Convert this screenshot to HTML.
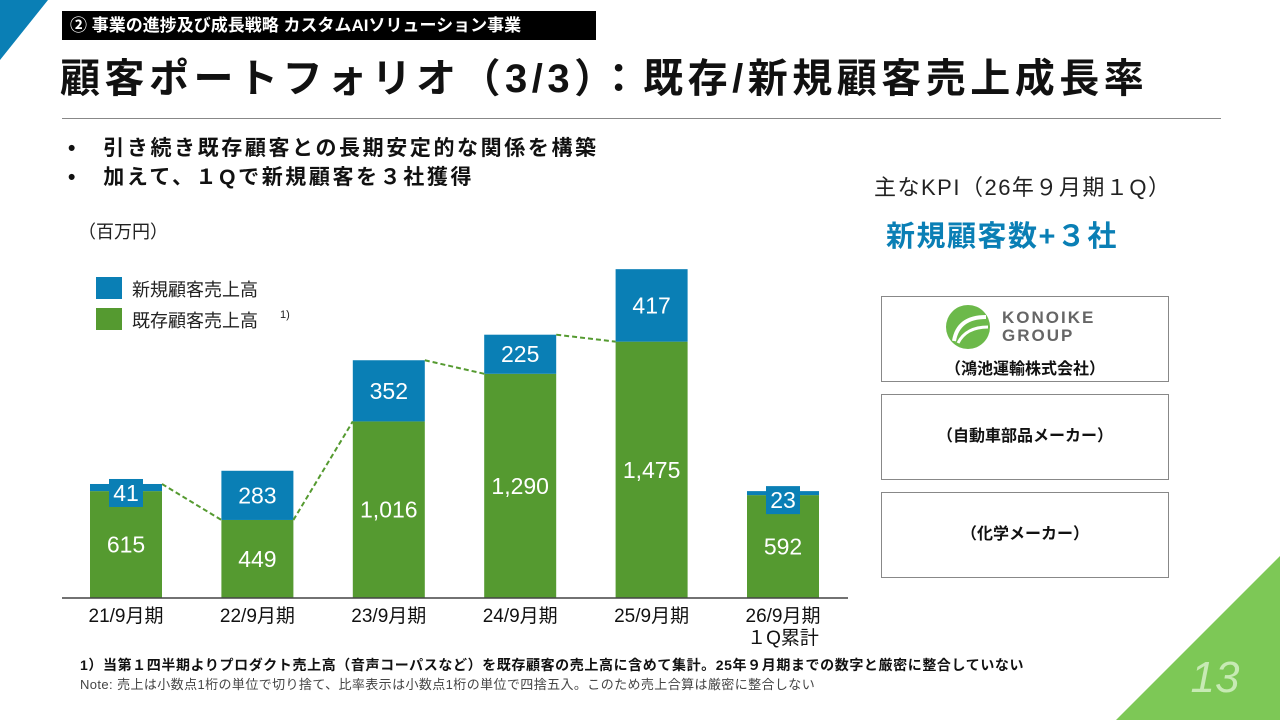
<!DOCTYPE html>
<html><head><meta charset="utf-8">
<style>
body{margin:0;width:1280px;height:720px;overflow:hidden;background:#fff;font-family:"Liberation Sans","Noto Sans CJK JP",sans-serif;position:relative}
.abs{position:absolute}
.tag{left:62px;top:11px;width:534px;height:29px;background:#000;color:#fff;font-size:17px;font-weight:bold;line-height:29px;padding-left:8px;box-sizing:border-box}
.title{left:60px;top:46px;font-size:40px;letter-spacing:4.5px;font-weight:bold;color:#111;white-space:nowrap}
.rule{left:62px;top:118px;width:1159px;height:1px;background:#888}
.bul{left:68px;font-size:21px;letter-spacing:2.6px;font-weight:bold;color:#111;white-space:nowrap}
.kbox{left:881px;width:288px;border:1.5px solid #888;box-sizing:border-box;font-size:16px;font-weight:bold;color:#111;text-align:center}
</style></head><body>
<svg class="abs" style="left:0;top:0" width="1280" height="720">
<polygon points="0,0 48,0 0,60" fill="#0a7fb5"/>
<polygon points="1116,720 1280,556 1280,720" fill="#7dc856"/>
<text x="1215" y="692" font-size="44" font-style="italic" fill="#c7eab4" text-anchor="middle" font-family="Liberation Sans">13</text>
</svg>
<div class="abs tag">② 事業の進捗及び成長戦略 カスタムAIソリューション事業</div>
<div class="abs title">顧客ポートフォリオ（3/3）：既存/新規顧客売上成長率</div>
<div class="abs rule"></div>
<div class="abs bul" style="top:132px">•&nbsp;&nbsp;&nbsp;引き続き既存顧客との長期安定的な関係を構築</div>
<div class="abs bul" style="top:161px">•&nbsp;&nbsp;&nbsp;加えて、１Qで新規顧客を３社獲得</div>
<div class="abs" style="left:78px;top:218px;font-size:18px;color:#222">（百万円）</div>
<div class="abs" style="left:874px;top:170px;font-size:22px;letter-spacing:1.5px;color:#222;white-space:nowrap">主なKPI（26年９月期１Q）</div>
<div class="abs" style="left:886px;top:213px;font-size:29px;letter-spacing:1.5px;font-weight:bold;color:#0a7fb5;white-space:nowrap">新規顧客数+３社</div>
<div class="abs kbox" style="top:296px;height:86px">
<svg width="60" height="50" style="position:absolute;left:58px;top:6px"><circle cx="28" cy="24" r="22" fill="#6cb94a"/><path d="M14,38 Q18,14 46,14" stroke="#fff" stroke-width="4" fill="none"/><path d="M18,40 Q26,24 48,24" stroke="#fff" stroke-width="3" fill="none"/></svg>
<div style="position:absolute;left:120px;top:12px;font-size:17px;letter-spacing:2px;color:#666;line-height:18px;text-align:left">KONOIKE<br>GROUP</div>
<div style="position:absolute;left:0;right:0;top:58px">（鴻池運輸株式会社）</div></div>
<div class="abs kbox" style="top:394px;height:86px;line-height:84px">（自動車部品メーカー）</div>
<div class="abs kbox" style="top:492px;height:86px;line-height:84px">（化学メーカー）</div>
<div class="abs" style="left:80px;top:655px;font-size:14px;letter-spacing:0.6px;font-weight:bold;color:#111;white-space:nowrap">1）当第１四半期よりプロダクト売上高（音声コーパスなど）を既存顧客の売上高に含めて集計。25年９月期までの数字と厳密に整合していない</div>
<div class="abs" style="left:80px;top:674px;font-size:13px;letter-spacing:0.4px;color:#444;white-space:nowrap">Note: 売上は小数点1桁の単位で切り捨て、比率表示は小数点1桁の単位で四捨五入。このため売上合算は厳密に整合しない</div>
<svg id="chart" class="abs" style="left:0;top:0" width="870" height="660"></svg>
<script>
const categories=["21/9月期","22/9月期","23/9月期","24/9月期","25/9月期","26/9月期"];
const existing=[615,449,1016,1290,1475,592];
const newSales=[41,283,352,225,417,23];
const trendFromTotal=[true,false,true,true];
const svg=document.getElementById('chart');
const NS='http://www.w3.org/2000/svg';
const base=598,k=0.1738,x0=126,step=131.4,bw=72;
const xc=i=>x0+i*step, y=v=>base-v*k;
function mk(t,a,txt){const e=document.createElementNS(NS,t);for(const p in a)e.setAttribute(p,a[p]);if(txt!=null)e.textContent=txt;svg.appendChild(e);return e;}
const G='#559a30',B='#0a7fb5';
categories.forEach((c,i)=>{
 const g=mk('rect',{x:xc(i)-bw/2,y:y(existing[i]),width:bw,height:existing[i]*k,fill:G});
 
 
 const b=mk('rect',{x:xc(i)-bw/2,y:y(existing[i]+newSales[i]),width:bw,height:newSales[i]*k,fill:B});
 
 
 const bh=newSales[i]*k, ym=y(existing[i]+newSales[i]/2);
 if(bh<28){mk('rect',{x:xc(i)-17,y:y(existing[i]+newSales[i])-5,width:34,height:28,fill:B});}
 const by=bh<28?y(existing[i]+newSales[i])+17:ym+8;
 const t1=mk('text',{x:xc(i),y:by,'text-anchor':'middle','font-size':23,fill:'#fff'},newSales[i]);
 
 
 const t2=mk('text',{x:xc(i),y:y(existing[i]/2)+8,'text-anchor':'middle','font-size':23,fill:'#fff'},existing[i].toLocaleString());
 
 
 const t3=mk('text',{x:xc(i),y:622,'text-anchor':'middle','font-size':19,fill:'#111'},c);
 
 
});
for(let i=0;i<trendFromTotal.length;i++){
 const sv=trendFromTotal[i]?existing[i]+newSales[i]:existing[i];
 const l=mk('line',{x1:xc(i)+bw/2,y1:y(sv),x2:xc(i+1)-bw/2,y2:y(existing[i+1]),stroke:G,'stroke-width':2,'stroke-dasharray':'5,3'});
 
 
}
const t4=mk('text',{x:xc(5),y:644,'text-anchor':'middle','font-size':19,fill:'#111'},'１Q累計');


const ax=mk('line',{x1:62,y1:base,x2:848,y2:base,stroke:'#444','stroke-width':1.5});


mk('rect',{x:96,y:277,width:26,height:22,fill:B});
mk('rect',{x:96,y:308,width:26,height:22,fill:G});
const l1=mk('text',{x:132,y:296,'font-size':18,fill:'#222'},'新規顧客売上高');


const l2=mk('text',{x:132,y:327,'font-size':18,fill:'#222'},'既存顧客売上高');


mk('text',{x:280,y:318,'font-size':11,fill:'#222'},'1)');
</script>
</body></html>
